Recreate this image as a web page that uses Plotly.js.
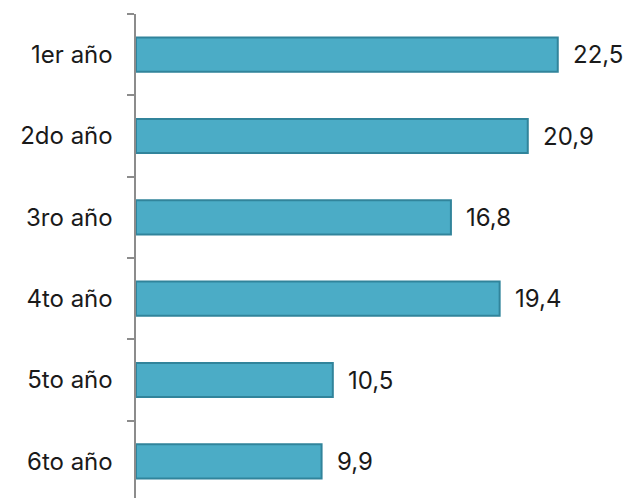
<!DOCTYPE html>
<html><head><meta charset="utf-8">
<script src="https://cdn.plot.ly/plotly-3.0.1.min.js"></script>
<style>html,body{margin:0;padding:0;background:#fff;overflow:hidden}</style>
</head><body>
<div id="chart" style="width:627px;height:502px"></div>
<script>
const categories = ["1er año","2do año","3ro año","4to año","5to año","6to año"];
const values = [22.5, 20.9, 16.8, 19.4, 10.5, 9.9];
const valueLabels = values.map(v => v.toFixed(1).replace('.', ','));

const fontFam = "Inter, 'Noto Sans', sans-serif";
const trace = {
  type: 'bar', orientation: 'h',
  x: values, y: categories,
  width: 0.42,
  marker: {color: '#4BACC6', line: {color: '#31849B', width: 2}},
  hoverinfo: 'none'
};
const annotations = values.map((v, i) => ({
  x: v, y: categories[i], xref: 'x', yref: 'y',
  text: valueLabels[i], showarrow: false, xanchor: 'left', xshift: 13,
  font: {family: fontFam, size: 24, color: '#1a1a1a'}
}));
const layout = {
  width: 627, height: 502,
  margin: {l: 136, r: 13, t: 14, b: 0},
  paper_bgcolor: '#fff', plot_bgcolor: '#fff',
  showlegend: false,
  xaxis: {range: [0, 25.5], visible: false, fixedrange: true},
  yaxis: {
    type: 'category', categoryorder: 'array', categoryarray: categories,
    range: [5.5, -0.5],
    showline: true, linecolor: '#8c8c8c', linewidth: 2.5,
    ticks: 'outside', tickson: 'boundaries', ticklen: 7, tickwidth: 2, tickcolor: '#8c8c8c',
    ticklabelstandoff: 16,
    showgrid: false, zeroline: false,
    tickfont: {family: fontFam, size: 24, color: '#1a1a1a'}
  },
  annotations: annotations
};
Plotly.newPlot('chart', [trace], layout, {displayModeBar: false, staticPlot: true});
</script>
</body></html>
